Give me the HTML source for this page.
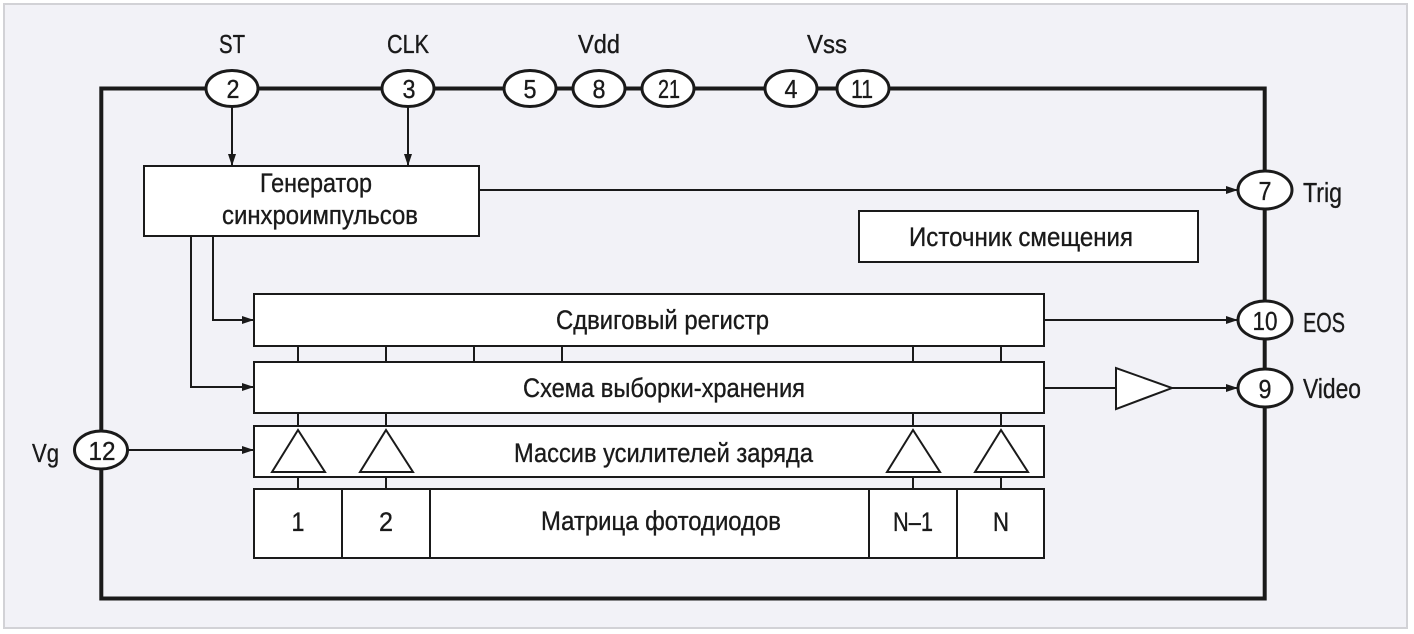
<!DOCTYPE html>
<html><head><meta charset="utf-8"><style>
html,body{margin:0;padding:0;background:#fff;}
svg{display:block;}
text{font-family:"Liberation Sans","DejaVu Sans",sans-serif;fill:#1a1a1a;stroke:#1a1a1a;stroke-width:0.35;}
</style></head><body>
<svg width="1414" height="634" viewBox="0 0 1414 634" xmlns="http://www.w3.org/2000/svg">
<defs>
<marker id="ar" markerWidth="12" markerHeight="10" refX="12" refY="5" orient="auto" markerUnits="userSpaceOnUse">
<path d="M0,1 L12,5 L0,9 Z" fill="#1a1a1a"/>
</marker>
</defs>
<rect x="4" y="4" width="1403" height="624" fill="#f2f2f7" stroke="#d2d2d6" stroke-width="2"/>

<!-- main frame -->
<rect x="101.3" y="88.5" width="1163.4" height="510" fill="none" stroke="#1a1a1a" stroke-width="4"/>

<!-- connectors from pins -->
<g stroke="#1a1a1a" stroke-width="2" fill="none">
<line x1="232" y1="107" x2="232" y2="166" marker-end="url(#ar)"/>
<line x1="408" y1="107" x2="408" y2="166" marker-end="url(#ar)"/>
<line x1="479" y1="190" x2="1238" y2="190" marker-end="url(#ar)"/>
<polyline points="213,236 213,320 254,320" marker-end="url(#ar)"/>
<polyline points="191,236 191,387 254,387" marker-end="url(#ar)"/>
<line x1="128" y1="450" x2="254" y2="450" marker-end="url(#ar)"/>
<line x1="1044" y1="320" x2="1238" y2="320" marker-end="url(#ar)"/>
<line x1="1044" y1="388" x2="1116" y2="388"/>
<line x1="1172" y1="388" x2="1238" y2="388" marker-end="url(#ar)"/>
<!-- vertical bus ties -->
<line x1="298" y1="346" x2="298" y2="362"/>
<line x1="386" y1="346" x2="386" y2="362"/>
<line x1="474" y1="346" x2="474" y2="362"/>
<line x1="562" y1="346" x2="562" y2="362"/>
<line x1="913" y1="346" x2="913" y2="362"/>
<line x1="1001" y1="346" x2="1001" y2="362"/>
<line x1="298" y1="413" x2="298" y2="426"/>
<line x1="386" y1="413" x2="386" y2="426"/>
<line x1="913" y1="413" x2="913" y2="426"/>
<line x1="1001" y1="413" x2="1001" y2="426"/>
<line x1="298" y1="477" x2="298" y2="489"/>
<line x1="386" y1="477" x2="386" y2="489"/>
<line x1="913" y1="477" x2="913" y2="489"/>
<line x1="1001" y1="477" x2="1001" y2="489"/>
</g>

<!-- boxes -->
<g fill="#fff" stroke="#1a1a1a" stroke-width="2">
<rect x="144" y="166" width="335" height="70"/>
<rect x="859" y="211" width="339" height="51"/>
<rect x="254" y="294" width="790" height="52"/>
<rect x="254" y="362" width="790" height="51"/>
<rect x="254" y="426" width="790" height="51"/>
<rect x="254" y="489" width="790" height="69"/>
<line x1="342" y1="489" x2="342" y2="558"/>
<line x1="430" y1="489" x2="430" y2="558"/>
<line x1="869" y1="489" x2="869" y2="558"/>
<line x1="957" y1="489" x2="957" y2="558"/>
<!-- amplifier triangles -->
<polygon points="298,430 272,472 325,472"/>
<polygon points="386,430 360,472 413,472"/>
<polygon points="913,430 887,472 940,472"/>
<polygon points="1001,430 975,472 1028,472"/>
<!-- output buffer -->
<polygon points="1116,368 1116,409 1172,388"/>
</g>

<!-- pins -->
<g fill="#fff" stroke="#1a1a1a" stroke-width="3">
<ellipse cx="232" cy="88.5" rx="26" ry="18"/>
<ellipse cx="408" cy="88.5" rx="26" ry="18"/>
<ellipse cx="530" cy="88.5" rx="26" ry="18"/>
<ellipse cx="599" cy="88.5" rx="26" ry="18"/>
<ellipse cx="668" cy="88.5" rx="26" ry="18"/>
<ellipse cx="791" cy="88.5" rx="26" ry="18"/>
<ellipse cx="863" cy="88.5" rx="26" ry="18"/>
<ellipse cx="1265" cy="190" rx="27" ry="19"/>
<ellipse cx="1265" cy="320" rx="27" ry="19"/>
<ellipse cx="1265" cy="388" rx="27" ry="19"/>
<ellipse cx="101" cy="450" rx="26.5" ry="19"/>
</g>

<!-- pin numbers -->
<g font-size="26" text-anchor="middle">
<text x="233" y="98" textLength="13" lengthAdjust="spacingAndGlyphs">2</text>
<text x="409" y="98" textLength="13" lengthAdjust="spacingAndGlyphs">3</text>
<text x="530" y="98" textLength="13" lengthAdjust="spacingAndGlyphs">5</text>
<text x="599" y="98" textLength="13" lengthAdjust="spacingAndGlyphs">8</text>
<text x="669" y="98" textLength="22" lengthAdjust="spacingAndGlyphs">21</text>
<text x="791" y="98" textLength="13" lengthAdjust="spacingAndGlyphs">4</text>
<text x="862" y="98" textLength="22" lengthAdjust="spacingAndGlyphs">11</text>
<text x="1265" y="200" textLength="13" lengthAdjust="spacingAndGlyphs">7</text>
<text x="1265" y="330" textLength="25" lengthAdjust="spacingAndGlyphs">10</text>
<text x="1265" y="398" textLength="13" lengthAdjust="spacingAndGlyphs">9</text>
<text x="102" y="460" textLength="27" lengthAdjust="spacingAndGlyphs">12</text>
</g>

<!-- pin labels -->
<g font-size="26">
<text x="219" y="53" textLength="26" lengthAdjust="spacingAndGlyphs">ST</text>
<text x="387" y="53" textLength="42" lengthAdjust="spacingAndGlyphs">CLK</text>
<text x="578" y="53" textLength="42" lengthAdjust="spacingAndGlyphs">Vdd</text>
<text x="807" y="53" textLength="40" lengthAdjust="spacingAndGlyphs">Vss</text>
<text x="32" y="462" textLength="27" lengthAdjust="spacingAndGlyphs">Vg</text>
</g>
<g font-size="28">
<text x="1303" y="202" textLength="39" lengthAdjust="spacingAndGlyphs">Trig</text>
<text x="1303" y="332" textLength="42" lengthAdjust="spacingAndGlyphs">EOS</text>
<text x="1303" y="398" textLength="58" lengthAdjust="spacingAndGlyphs">Video</text>
</g>

<!-- box labels -->
<g font-size="26.5">
<text x="260" y="192" textLength="112" lengthAdjust="spacingAndGlyphs">Генератор</text>
<text x="222" y="224" textLength="196" lengthAdjust="spacingAndGlyphs">синхроимпульсов</text>
<text x="909" y="246" textLength="224" lengthAdjust="spacingAndGlyphs">Источник смещения</text>
<text x="556" y="329" textLength="213" lengthAdjust="spacingAndGlyphs">Сдвиговый регистр</text>
<text x="523" y="397" textLength="282" lengthAdjust="spacingAndGlyphs">Схема выборки-хранения</text>
<text x="514" y="462" textLength="299" lengthAdjust="spacingAndGlyphs">Массив усилителей заряда</text>
<text x="541" y="530" textLength="240" lengthAdjust="spacingAndGlyphs">Матрица фотодиодов</text>
</g>
<g font-size="26.5" text-anchor="middle">
<text x="298" y="531" textLength="13" lengthAdjust="spacingAndGlyphs">1</text>
<text x="386" y="531" textLength="14" lengthAdjust="spacingAndGlyphs">2</text>
<text x="913" y="531" textLength="40" lengthAdjust="spacingAndGlyphs">N–1</text>
<text x="1001" y="531" textLength="16" lengthAdjust="spacingAndGlyphs">N</text>
</g>
</svg>
</body></html>
